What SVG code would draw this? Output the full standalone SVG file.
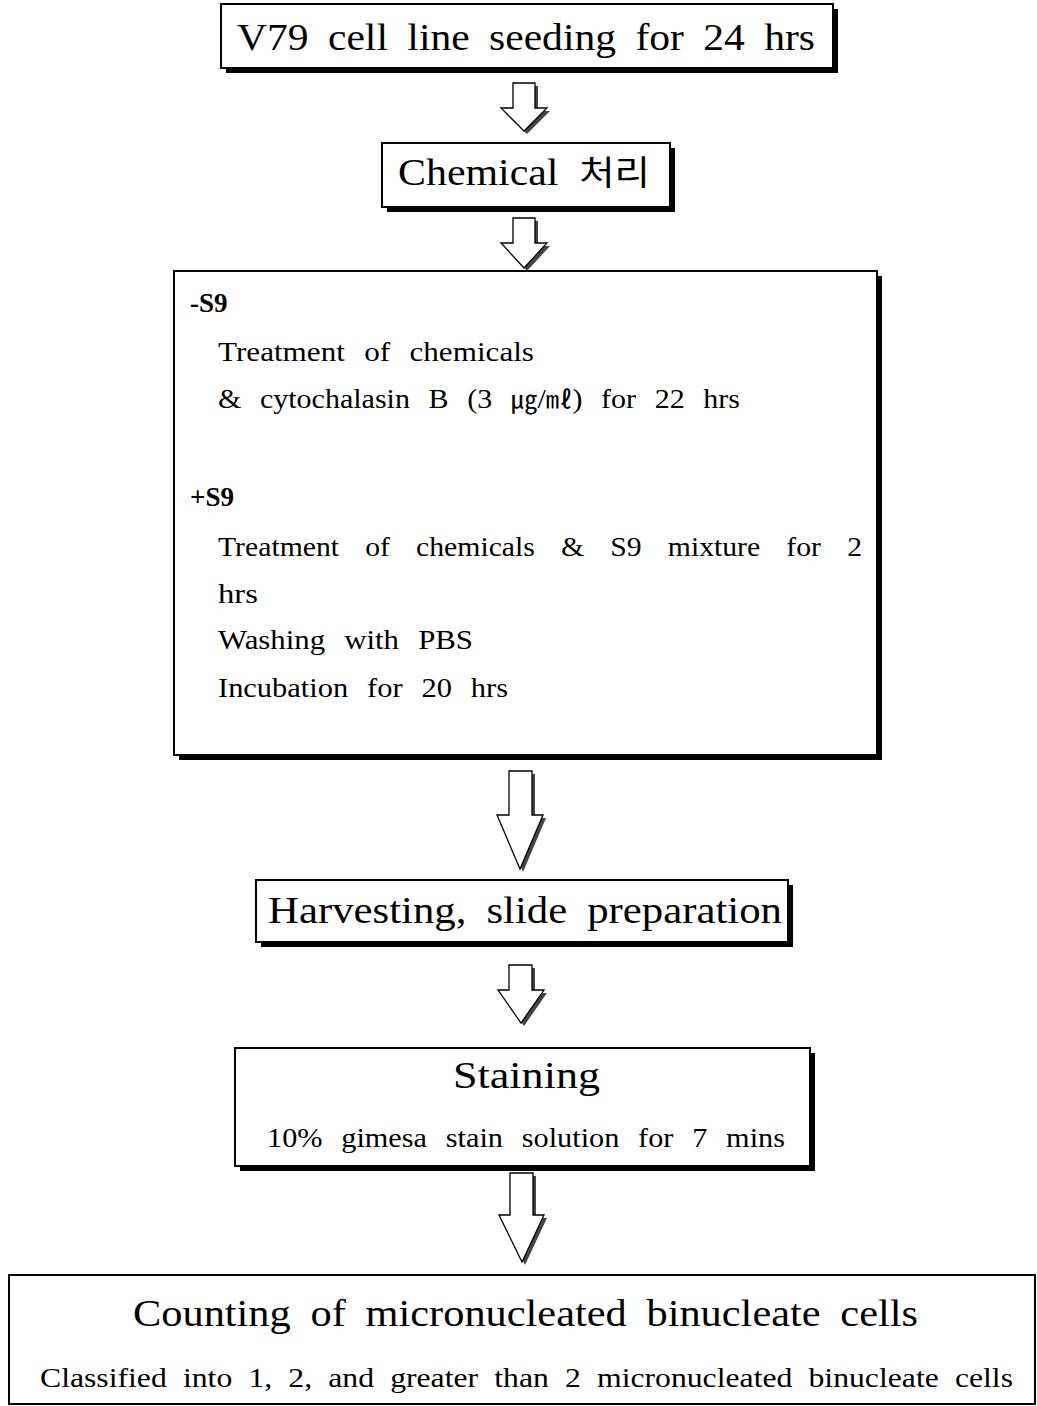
<svg xmlns="http://www.w3.org/2000/svg" width="1037" height="1406" viewBox="0 0 1037 1406">
<style>
.box{fill:#fff;stroke:#000;stroke-width:2}
.sh{fill:#000}
.ar{fill:#fff;stroke:#000;stroke-width:1.3}
.ash{fill:#444}
text{font-family:"Liberation Serif","Noto Sans CJK KR",serif;fill:#000}
.big{font-size:37px}
.body{font-size:27px;word-spacing:10px}
.bold{font-size:27px;font-weight:bold}
.kr{font-family:"Noto Sans CJK KR",sans-serif}
</style>
<rect width="1037" height="1406" fill="#fff"/>
<g id="connectors">
  <g id="arrow1">
    <polygon class="ash" points="515,86 538,86 538,111 550,111 527,134 504,111 515,111"/>
    <polygon class="ar" points="513,83 535,83 535,108 547,108 524,131 501,108 513,108"/>
  </g>
  <g id="arrow2">
    <polygon class="ash" points="515,221 538,221 538,246 550,246 527,271 504,246 515,246"/>
    <polygon class="ar" points="513,218 535,218 535,243 547,243 524,268 501,243 513,243"/>
  </g>
  <g id="arrow3">
    <polygon class="ash" points="512,774 535,774 535,818 546,818 523,872 500,818 512,818"/>
    <polygon class="ar" points="509,771 532,771 532,815 543,815 520,869 497,815 509,815"/>
  </g>
  <g id="arrow4">
    <polygon class="ash" points="512,968 535,968 535,993 547,993 524,1026 501,993 512,993"/>
    <polygon class="ar" points="509,965 532,965 532,990 544,990 521,1023 498,990 509,990"/>
  </g>
  <g id="arrow5">
    <polygon class="ash" points="513,1176 536,1176 536,1218 547,1218 525,1265 502,1218 513,1218"/>
    <polygon class="ar" points="510,1173 533,1173 533,1215 544,1215 522,1262 499,1215 510,1215"/>
  </g>
</g>
<g id="node1">
  <rect class="sh" x="226" y="9" width="612" height="64"/>
  <rect class="box" x="221" y="4" width="612" height="64"/>
  <text class="big" x="237" y="50" textLength="578" lengthAdjust="spacingAndGlyphs" style="word-spacing:8px">V79 cell line seeding for 24 hrs</text>
</g>
<g id="node2">
  <rect class="sh" x="387" y="148" width="288" height="64"/>
  <rect class="box" x="382" y="143" width="288" height="64"/>
  <text class="big" x="398" y="185" textLength="252" lengthAdjust="spacingAndGlyphs" style="word-spacing:9px">Chemical <tspan class="kr" font-size="34">처리</tspan></text>
</g>
<g id="node3">
  <rect class="sh" x="179" y="276" width="703" height="484"/>
  <rect class="box" x="174" y="271" width="703" height="484"/>
  <text class="bold" x="190" y="312">-S9</text>
  <text class="body" x="218" y="361" textLength="316" lengthAdjust="spacingAndGlyphs">Treatment of chemicals</text>
  <text class="body" x="218" y="408" textLength="522" lengthAdjust="spacingAndGlyphs">&amp; cytochalasin B (3 <tspan class="kr" font-size="24">㎍</tspan>/<tspan class="kr" font-size="24">㎖</tspan>) for 22 hrs</text>
  <text class="bold" x="190" y="506">+S9</text>
  <text class="body" x="218" y="556" textLength="644" lengthAdjust="spacingAndGlyphs" style="word-spacing:17px">Treatment of chemicals &amp; S9 mixture for 2</text>
  <text class="body" x="218" y="603" textLength="40" lengthAdjust="spacingAndGlyphs">hrs</text>
  <text class="body" x="218" y="649" textLength="255" lengthAdjust="spacingAndGlyphs">Washing with PBS</text>
  <text class="body" x="218" y="697" textLength="290" lengthAdjust="spacingAndGlyphs">Incubation for 20 hrs</text>
</g>
<g id="node4">
  <rect class="sh" x="261" y="885" width="532" height="62"/>
  <rect class="box" x="256" y="880" width="532" height="62"/>
  <text class="big" x="268" y="923" textLength="514" lengthAdjust="spacingAndGlyphs" style="word-spacing:8px">Harvesting, slide preparation</text>
</g>
<g id="node5">
  <rect class="sh" x="240" y="1053" width="575" height="118"/>
  <rect class="box" x="235" y="1048" width="575" height="118"/>
  <text class="big" x="453" y="1088" textLength="147" lengthAdjust="spacingAndGlyphs" font-size="35">Staining</text>
  <text class="body" x="267" y="1147" textLength="518" lengthAdjust="spacingAndGlyphs">10% gimesa stain solution for 7 mins</text>
</g>
<g id="node6">
  <rect class="box" x="9" y="1275" width="1026" height="129"/>
  <text class="big" x="133" y="1326" textLength="785" lengthAdjust="spacingAndGlyphs" style="word-spacing:8px">Counting of micronucleated binucleate cells</text>
  <text class="body" x="40" y="1387" textLength="973" lengthAdjust="spacingAndGlyphs" style="word-spacing:7px">Classified into 1, 2, and greater than 2 micronucleated binucleate cells</text>
</g>
</svg>
